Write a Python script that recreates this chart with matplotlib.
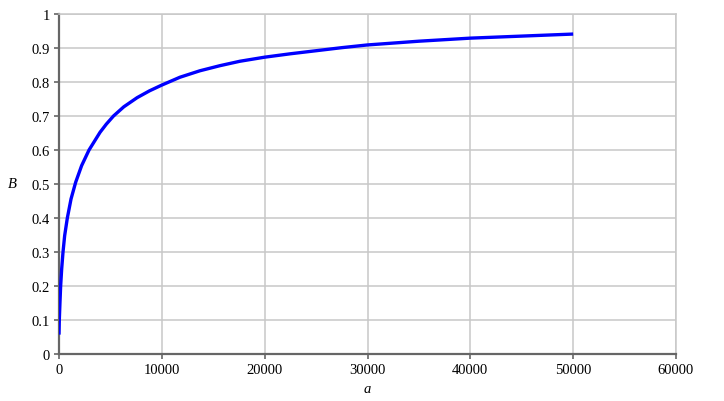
import matplotlib.pyplot as plt

# valores
a_vals = [0, 30, 95, 160, 260, 390, 550, 810, 1170, 1620, 2200, 2920, 3990,
          4600, 5300, 6300, 7600, 8800, 10000, 11760, 13700, 15650, 17590,
          20000, 22500, 25000, 27500, 30000, 35000, 40000, 45000, 50000]
b_vals = [0.057, 0.1, 0.152, 0.2, 0.25, 0.3, 0.348, 0.4, 0.456, 0.505, 0.554, 0.6, 0.652,
          0.676, 0.7, 0.727, 0.754, 0.774, 0.791, 0.814, 0.833, 0.848, 0.861,
          0.873, 0.883, 0.892, 0.901, 0.909, 0.920, 0.929, 0.935, 0.941]

x_ticks = [0, 10000, 20000, 30000, 40000, 50000, 60000]
y_ticks = [0, 0.1, 0.2, 0.3, 0.4, 0.5, 0.6, 0.7, 0.8, 0.9, 1]
y_labels = ['0', '0.1', '0.2', '0.3', '0.4', '0.5', '0.6', '0.7', '0.8', '0.9', '1']

plt.rcParams['font.family'] = ['Liberation Serif', 'DejaVu Serif']

fig = plt.figure(figsize=(7.24, 4.02), dpi=100)
ax = fig.add_axes([59 / 724, 1 - 355 / 402, 617 / 724, 340 / 402])

ax.plot(a_vals, b_vals, color='#0000ff', linewidth=2.4, solid_capstyle='butt',
        solid_joinstyle='round', zorder=3)

ax.set_xlim(0, 60000)
ax.set_ylim(0, 1)
ax.set_xticks(x_ticks)
ax.set_xticklabels([str(t) for t in x_ticks])
ax.set_yticks(y_ticks)
ax.set_yticklabels(y_labels)

ax.grid(True, color='#c8c8c8', linewidth=1.1)
ax.set_axisbelow(True)
for s in ['top', 'right']:
    ax.spines[s].set_color('#c8c8c8')
    ax.spines[s].set_linewidth(1.1)
for s in ['left', 'bottom']:
    ax.spines[s].set_color('#666666')
    ax.spines[s].set_linewidth(1.6)

ax.tick_params(axis='both', direction='out', length=3.5, width=1.2, color='#666666',
               labelsize=10.5, labelcolor='#000000', pad=3)

ax.set_xlabel('a', fontstyle='italic', fontsize=10.5, labelpad=4)
ax.set_ylabel('B', fontstyle='italic', fontsize=10.5, rotation=0, labelpad=14, va='center')

fig.savefig('out.png', dpi=100)
